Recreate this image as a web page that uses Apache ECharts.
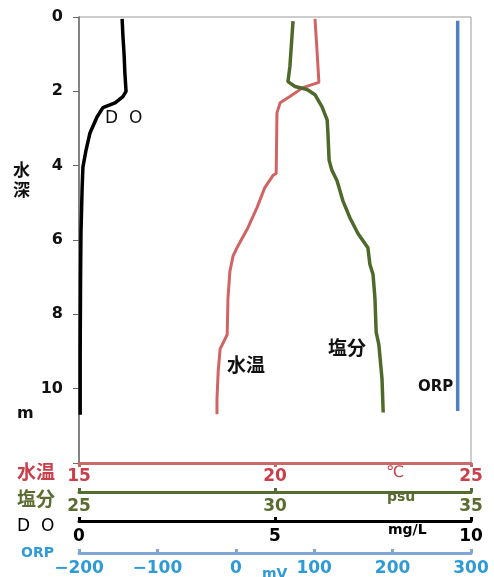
<!DOCTYPE html>
<html><head><meta charset="utf-8">
<script src="https://cdn.jsdelivr.net/npm/echarts@6/dist/echarts.min.js"></script>
<style>html,body{margin:0;padding:0;background:#fff}#c{width:494px;height:577px}</style>
</head><body><div id="c"></div>
<script>
// depth (m) and values
const doDepth = [0.05, 0.5, 1.0, 1.5, 2.0, 2.14, 2.31, 2.44, 2.69, 3.12, 3.58, 4.04, 4.59, 5.83, 7.0, 9.0, 10.7];
const doValue = [1.10, 1.12, 1.15, 1.17, 1.20, 1.12, 0.92, 0.61, 0.46, 0.28, 0.18, 0.10, 0.08, 0.05, 0.04, 0.03, 0.03];

const tempDepth = [0.05, 0.87, 1.76, 1.90, 2.14, 2.31, 2.58, 4.21, 4.26, 4.59, 5.13, 5.67, 6.21, 6.43, 6.84, 7.57, 8.55, 8.93, 9.55, 10.28, 10.69];
const tempValue = [21.02, 21.07, 21.12, 20.71, 20.38, 20.13, 20.05, 20.03, 19.95, 19.74, 19.54, 19.31, 19.03, 18.93, 18.85, 18.80, 18.78, 18.60, 18.55, 18.52, 18.52];

const salDepth = [0.11, 1.33, 1.74, 1.87, 1.95, 2.09, 2.42, 2.77, 3.12, 3.85, 4.12, 4.40, 4.94, 5.40, 5.83, 6.21, 6.65, 6.92, 7.57, 8.47, 8.82, 9.74, 10.64];
const salValue = [30.46, 30.38, 30.33, 30.51, 30.82, 31.02, 31.20, 31.33, 31.35, 31.38, 31.45, 31.58, 31.73, 31.91, 32.12, 32.37, 32.42, 32.50, 32.55, 32.58, 32.65, 32.73, 32.76];

const orpDepth = [0.1, 10.6];
const orpValue = [283, 283];

const depthTicks = [0, 2, 4, 6, 8, 10];

const pairs = (v, d) => v.map((x, i) => [x, d[i]]);
const cjk = 'Noto Sans CJK JP';

function xAx(min, max, interval, offset, lineColor, labelColor, margin, tickInside) {
  return {
    type: 'value', position: 'bottom', min, max, interval, offset,
    axisLine: {show: true, onZero: false, lineStyle: {color: lineColor, width: 3}},
    axisTick: {show: true, inside: tickInside, length: 4, lineStyle: {color: lineColor, width: 3}},
    axisLabel: {color: labelColor, margin, fontFamily: 'DejaVu Sans', fontWeight: 'bold', fontSize: 17,
      formatter: v => (v < 0 ? '\u2212' + Math.abs(v) : String(v))},
    splitLine: {show: false}
  };
}

const chart = echarts.init(document.getElementById('c'));
chart.setOption({
  animation: false,
  grid: {left: 79, right: 23, top: 17, bottom: 114, show: true, borderColor: '#9a9a9a', borderWidth: 1},
  xAxis: [
    xAx(15, 25, 5, 0, '#c96a6a', '#c8404a', 5, false),
    xAx(25, 35, 5, 29, '#556b2f', '#5c6b30', 6, true),
    xAx(0, 10, 5, 58, '#000000', '#000000', 7, true),
    xAx(-200, 300, 100, 90, '#7fa7d6', '#2f9ad6', 7, true)
  ],
  yAxis: {
    type: 'value', inverse: true, min: 0, max: 12, interval: 2,
    axisLine: {show: true, lineStyle: {color: '#6a6a6a', width: 1.5}},
    axisTick: {show: true, length: 6, lineStyle: {color: '#6a6a6a'}},
    axisLabel: {color: '#111', margin: 16, fontFamily: 'DejaVu Sans', fontWeight: 'bold', fontSize: 16,
      formatter: v => depthTicks.includes(v) ? String(v) : ''},
    splitLine: {show: false}
  },
  series: [
    {type: 'line', name: 'DO', xAxisIndex: 2, data: pairs(doValue, doDepth), showSymbol: false, symbol: 'none',
      lineStyle: {color: '#000', width: 3.5}},
    {type: 'line', name: '水温', xAxisIndex: 0, data: pairs(tempValue, tempDepth), showSymbol: false, symbol: 'none',
      lineStyle: {color: '#d06464', width: 3}},
    {type: 'line', name: '塩分', xAxisIndex: 1, data: pairs(salValue, salDepth), showSymbol: false, symbol: 'none',
      lineStyle: {color: '#4e6a2a', width: 3.5}},
    {type: 'line', name: 'ORP', xAxisIndex: 3, data: pairs(orpValue, orpDepth), showSymbol: false, symbol: 'none',
      lineStyle: {color: '#4f80c0', width: 3.5}}
  ],
  graphic: [
    {type: 'text', left: 13, top: 160, style: {text: '水\n深', font: 'bold 17px "' + cjk + '"', lineHeight: 20, fill: '#111'}},
    {type: 'text', left: 17, top: 406, style: {text: 'm', font: 'bold 16px "DejaVu Sans"', fill: '#111'}},
    {type: 'text', left: 105, top: 110, style: {text: 'D  O', font: '17px "DejaVu Sans"', fill: '#111'}},
    {type: 'text', left: 227, top: 355, style: {text: '水温', font: 'bold 19px "' + cjk + '"', fill: '#111'}},
    {type: 'text', left: 328, top: 338, style: {text: '塩分', font: 'bold 19px "' + cjk + '"', fill: '#111'}},
    {type: 'text', left: 418, top: 380, style: {text: 'ORP', font: 'bold 15px "DejaVu Sans"', fill: '#111'}},
    {type: 'text', left: 17, top: 462, style: {text: '水温', font: 'bold 19px "' + cjk + '"', fill: '#c8404a'}},
    {type: 'text', left: 17, top: 489, style: {text: '塩分', font: 'bold 19px "' + cjk + '"', fill: '#5c6b30'}},
    {type: 'text', left: 17, top: 518, style: {text: 'D  O', font: '17px "DejaVu Sans"', fill: '#000'}},
    {type: 'text', left: 21, top: 546, style: {text: 'ORP', font: 'bold 14px "DejaVu Sans"', fill: '#2f9ad6'}},
    {type: 'text', left: 386, top: 465, style: {text: '℃', font: '16px "DejaVu Sans"', fill: '#c8404a'}},
    {type: 'text', left: 387, top: 490, style: {text: 'psu', font: 'bold 14px "DejaVu Sans"', fill: '#5c6b30'}},
    {type: 'text', left: 388, top: 523, style: {text: 'mg/L', font: 'bold 14px "DejaVu Sans"', fill: '#000'}},
    {type: 'text', left: 262, top: 567, style: {text: 'mV', font: 'bold 14px "DejaVu Sans"', fill: '#2f9ad6'}}
  ]
});
</script></body></html>
